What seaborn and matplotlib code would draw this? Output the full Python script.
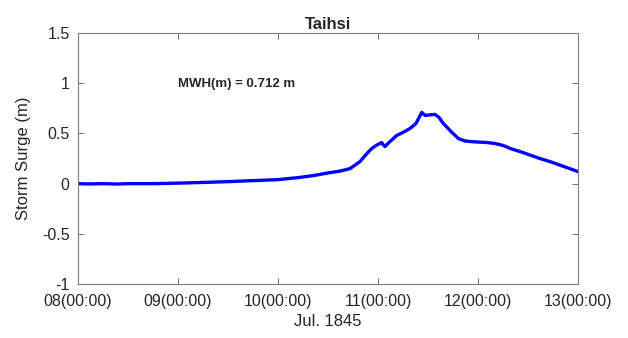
import numpy as np
import pandas as pd
import matplotlib
matplotlib.use("Agg")
import matplotlib.pyplot as plt
import seaborn as sns

# surge readings (day of Jul. 1845, metres)
days = [8.0, 8.1, 8.25, 8.4, 8.5, 8.75, 9.0, 9.25, 9.5, 9.75, 10.0, 10.2, 10.35,
        10.52, 10.62, 10.72, 10.82, 10.88, 10.937, 10.98, 11.037, 11.05, 11.07,
        11.12, 11.187, 11.25, 11.32, 11.38, 11.437, 11.47, 11.52, 11.57, 11.61,
        11.653, 11.73, 11.803, 11.87, 11.953, 12.087, 12.17, 12.253, 12.3,
        12.337, 12.42, 12.52, 12.62, 12.72, 12.86, 13.0]
surge = [0.0, -0.003, 0.0, -0.004, 0.0, 0.0, 0.005, 0.012, 0.02, 0.03, 0.04,
         0.06, 0.08, 0.11, 0.125, 0.15, 0.22, 0.29, 0.35, 0.38, 0.41, 0.39,
         0.37, 0.42, 0.48, 0.51, 0.55, 0.6, 0.71, 0.68, 0.685, 0.69, 0.66,
         0.6, 0.52, 0.45, 0.425, 0.417, 0.41, 0.4, 0.38, 0.36, 0.345, 0.32,
         0.285, 0.25, 0.22, 0.17, 0.12]

xticks = [8, 9, 10, 11, 12, 13]
xlabels = ["08(00:00)", "09(00:00)", "10(00:00)", "11(00:00)", "12(00:00)", "13(00:00)"]
yticks = [-1, -0.5, 0, 0.5, 1, 1.5]
ylabels = ["-1", "-0.5", "0", "0.5", "1", "1.5"]

df = pd.DataFrame({"day": days, "surge": surge})

sns.set_style("white")
plt.rcParams["font.family"] = ["Liberation Sans", "DejaVu Sans"]

fig = plt.figure(figsize=(6.28, 3.38), dpi=100)
ax = fig.add_axes([0.1242, 0.1598, 0.7962, 0.7422])

sns.lineplot(data=df, x="day", y="surge", color="#0000ff", linewidth=2.4, ax=ax)

ax.set_xlim(8, 13)
ax.set_ylim(-1, 1.5)
ax.set_xticks(xticks)
ax.set_xticklabels(xlabels, fontsize=11.5, color="#262626")
ax.set_yticks(yticks)
ax.set_yticklabels(ylabels, fontsize=11.5, color="#262626")
ax.tick_params(direction="in", length=4, width=0.6, color="#555555",
               top=True, right=True, bottom=True, left=True)
ax.tick_params(axis="x", pad=7)
ax.tick_params(axis="y", pad=6)
for s in ax.spines.values():
    s.set_color("#7f7f7f")
    s.set_linewidth(0.8)

ax.set_xlabel("Jul. 1845", fontsize=12, color="#262626", labelpad=4)
ax.set_ylabel("Storm Surge (m)", fontsize=12, color="#262626", labelpad=8)
ax.set_title("Taihsi", fontsize=12, fontweight="bold", pad=3)

ax.text(9.0, 0.99, "MWH(m) = 0.712 m", fontsize=9.5, fontweight="bold",
        va="center", ha="left")

fig.savefig("out.png", dpi=100)
